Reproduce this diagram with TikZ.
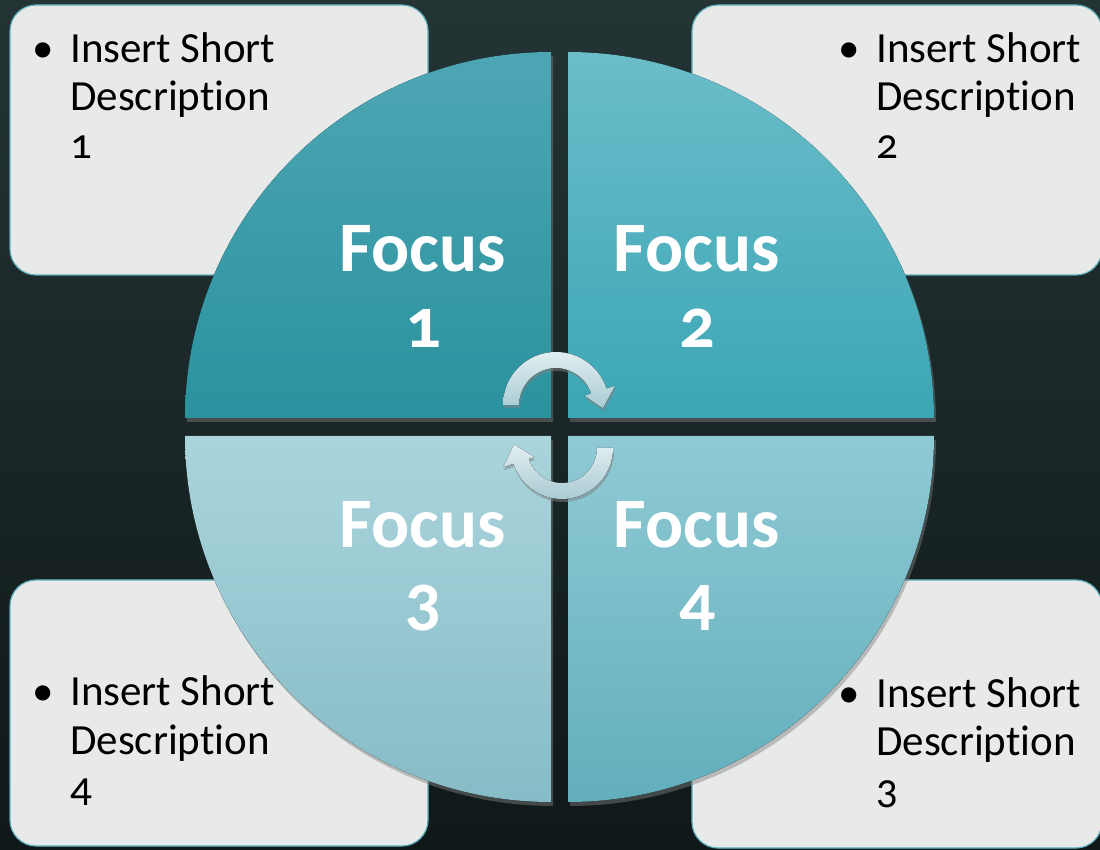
\documentclass[tikz,border=0pt]{standalone}
\usepackage{fontspec}
\setmainfont{Carlito}[Numbers=OldStyle,Ligatures=NoCommon]
\usepackage{tikz}
\usetikzlibrary{shadows}
\definecolor{bgtop}{HTML}{243435}
\definecolor{bgbot}{HTML}{101819}
\definecolor{boxfill}{HTML}{E8E9E9}
\definecolor{boxline}{HTML}{5DAFBB}
\definecolor{qatop}{HTML}{4EA6B4}
\definecolor{qabot}{HTML}{2A929E}
\definecolor{qbtop}{HTML}{6BBDC9}
\definecolor{qbbot}{HTML}{3BA6B5}
\definecolor{qctop}{HTML}{AAD4DC}
\definecolor{qcbot}{HTML}{86BCC7}
\definecolor{qdtop}{HTML}{8FCAD4}
\definecolor{qdbot}{HTML}{62AEBC}
\definecolor{turntop}{HTML}{E0EEF1}
\definecolor{turnbot}{HTML}{AACBD3}

\begin{document}
\begin{tikzpicture}[x=1pt,y=1pt,
  descbox/.style={fill=boxfill,draw=boxline,line width=1.2pt,rounded corners=26pt},
  desctext/.style={anchor=base west,inner sep=0pt,font=\fontsize{43}{48}\selectfont},
  dot/.style={anchor=base,inner sep=0pt,font=\fontsize{43}{48}\selectfont},
  focustext/.style={anchor=base,inner sep=0pt,text=white,font=\bfseries\fontsize{71}{76}\selectfont},
  quadshadow/.style={drop shadow={shadow xshift=2pt,shadow yshift=-4pt,opacity=0.45}},
  turn/.style={top color=turntop,bottom color=turnbot,drop shadow={shadow xshift=1pt,shadow yshift=-3pt,opacity=0.5}}]
  \useasboundingbox (0,0) rectangle (1100,849);
  \fill [top color=bgtop,bottom color=bgbot] (0,0) rectangle (1100,849);
%% description boxes
\foreach \xa/\ya/\xb/\yb in {10/574/428/844, 692/574/1102/844, 10/3/428/269, 692/1/1102/269}
    \draw[descbox] (\xa,\ya) rectangle (\xb,\yb);
\foreach \n/\x/\y in {1/70/786, 2/876/786, 4/70/143, 3/876/142}{
    \node[desctext] (desc\n) at (\x,\y) {\begin{tabular}[t]{@{}l@{}}Insert Short\\Description\\\n\end{tabular}};
    \node[dot] (bullet\n) at ([xshift=-27pt]desc\n.base west) {\textbullet};
}
%% circle quadrants
\foreach \cx/\cy/\a/\ctop/\cbot in {551/431/180/qatop/qabot, 568/431/90/qbtop/qbbot, 551/413/270/qctop/qcbot, 568/413/0/qdtop/qdbot}
    \fill[top color=\ctop,bottom color=\cbot,quadshadow] (\cx,\cy) -- ++(\a:366) arc[start angle=\a,end angle=\a-90,radius=366] -- cycle;
\foreach \n/\x/\y in {1/423/577, 2/697/577, 3/423/301, 4/697/301}
    \node[focustext] (focus\n) at (\x,\y) {\begin{tabular}[t]{@{}c@{}}Focus\\\n\end{tabular}};
%% turning arrows
\begin{scope}[shift={(556,444)}]
  \fill[turn] (180:53) arc[start angle=180,end angle=18,radius=53] -- (18:62) -- (-4:47) -- (18:30) -- (18:37) arc[start angle=18,end angle=180,radius=37] -- cycle;
\end{scope}
\begin{scope}[shift={(562,401)}]
  \fill[turn] (0:51) arc[start angle=0,end angle=-162,radius=51] -- (-162:62) -- (176:48) -- (-162:29) -- (-162:35) arc[start angle=-162,end angle=0,radius=35] -- cycle;
\end{scope}
\end{tikzpicture}
\end{document}
